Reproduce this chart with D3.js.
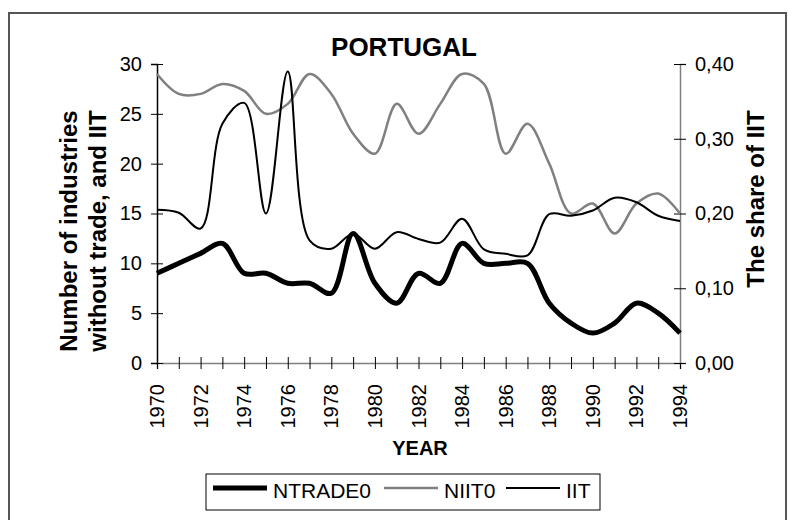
<!DOCTYPE html>
<html>
<head>
<meta charset="utf-8">
<script src="https://cdn.jsdelivr.net/npm/d3@7"></script>
<style>
  body { margin: 0; background: #fff; }
  svg { font-family: "Liberation Sans", Arial, sans-serif; }
</style>
</head>
<body>
<svg id="chart" width="788" height="520"></svg>
<script>
'use strict';

// data
var years = [1970, 1971, 1972, 1973, 1974, 1975, 1976, 1977, 1978, 1979, 1980, 1981, 1982,
             1983, 1984, 1985, 1986, 1987, 1988, 1989, 1990, 1991, 1992, 1993, 1994];
var ntrade0 = [9, 10, 11, 12, 9, 9, 8, 8, 7, 13, 8, 6, 9, 8, 12, 10, 10, 10, 6, 4, 3, 4, 6, 5, 3];
var niit0 = [29, 27, 27, 28, 27.3, 25, 26, 29, 27, 23, 21, 26, 23, 26, 29, 28, 21, 24, 20, 15, 16, 13, 16, 17, 15];
var iit = [0.205, 0.201, 0.18, 0.32, 0.348, 0.2, 0.39, 0.164, 0.153, 0.173, 0.153, 0.175, 0.166,
           0.161, 0.193, 0.152, 0.146, 0.144, 0.199, 0.197, 0.204, 0.221, 0.215, 0.197, 0.19];
var leftTicks = [0, 5, 10, 15, 20, 25, 30];
var rightTicks = [0, 0.1, 0.2, 0.3, 0.4];
var yearLabels = [1970, 1972, 1974, 1976, 1978, 1980, 1982, 1984, 1986, 1988, 1990, 1992, 1994];

var svg = d3.select("#chart");

// outer frame
svg.append("rect")
  .attr("x", 9).attr("y", 13)
  .attr("width", 777).attr("height", 520)
  .attr("fill", "#fff")
  .attr("stroke", "#555")
  .attr("stroke-width", 2);

var x = d3.scaleLinear().domain([1970, 1994]).range([157, 680]);
var yL = d3.scaleLinear().domain([0, 30]).range([363, 64]);
var yR = d3.scaleLinear().domain([0, 0.4]).range([363, 64]);

// axes
var gx = svg.append("g").attr("transform", "translate(0,363)")
  .call(d3.axisBottom(x).tickValues(years).tickSize(6).tickFormat(""));
gx.select(".domain").attr("stroke", "#808080").attr("stroke-width", 1.5);
gx.selectAll(".tick line").attr("y1", -6).attr("stroke", "#000");

svg.selectAll(".yl")
  .data(yearLabels)
  .enter().append("text")
  .attr("class", "yl")
  .attr("transform", function(d) { return "translate(" + x(d) + ",384) rotate(-90)"; })
  .attr("text-anchor", "end")
  .attr("dy", "0.35em")
  .attr("font-size", 20)
  .attr("fill", "#000")
  .text(function(d) { return d; });

var gl = svg.append("g").attr("transform", "translate(157,0)")
  .call(d3.axisLeft(yL).tickValues(leftTicks).tickSize(6).tickPadding(9));
gl.select(".domain").attr("stroke", "#000").attr("stroke-width", 1.5);
gl.selectAll(".tick line").attr("x1", 6).attr("stroke", "#000");
gl.selectAll(".tick text").attr("font-size", 20).attr("font-family", "Liberation Sans, Arial, sans-serif");

var gr = svg.append("g").attr("transform", "translate(680,0)")
  .call(d3.axisRight(yR).tickValues(rightTicks).tickSize(6).tickPadding(9)
    .tickFormat(function(d) { return d3.format(".2f")(d).replace(".", ","); }));
gr.select(".domain").attr("stroke", "#808080").attr("stroke-width", 1.5);
gr.selectAll(".tick line").attr("x1", -6).attr("stroke", "#000");
gr.selectAll(".tick text").attr("font-size", 20).attr("font-family", "Liberation Sans, Arial, sans-serif");

// lines
var lineL = d3.line()
  .x(function(d, i) { return x(years[i]); })
  .y(function(d) { return yL(d); })
  .curve(d3.curveCatmullRom.alpha(0.5));
var lineR = d3.line()
  .x(function(d, i) { return x(years[i]); })
  .y(function(d) { return yR(d); })
  .curve(d3.curveCatmullRom.alpha(0.5));

svg.append("path").datum(niit0)
  .attr("d", lineL).attr("fill", "none")
  .attr("stroke", "#808080").attr("stroke-width", 2.5);
svg.append("path").datum(iit)
  .attr("d", lineR).attr("fill", "none")
  .attr("stroke", "#000").attr("stroke-width", 2);
svg.append("path").datum(ntrade0)
  .attr("d", lineL).attr("fill", "none")
  .attr("stroke", "#000").attr("stroke-width", 5);

// titles
svg.append("text")
  .attr("x", 404).attr("y", 56)
  .attr("text-anchor", "middle")
  .attr("font-size", 26).attr("font-weight", "bold")
  .text("PORTUGAL");

svg.append("text")
  .attr("x", 420).attr("y", 455)
  .attr("text-anchor", "middle")
  .attr("font-size", 20).attr("font-weight", "bold")
  .text("YEAR");

svg.append("text")
  .attr("transform", "translate(77,231) rotate(-90)")
  .attr("text-anchor", "middle")
  .attr("font-size", 24).attr("font-weight", "bold")
  .text("Number of industries");
svg.append("text")
  .attr("transform", "translate(106,231) rotate(-90)")
  .attr("text-anchor", "middle")
  .attr("font-size", 24).attr("font-weight", "bold")
  .text("without trade, and IIT");

svg.append("text")
  .attr("transform", "translate(764,199) rotate(-90)")
  .attr("text-anchor", "middle")
  .attr("font-size", 24).attr("font-weight", "bold")
  .text("The share of IIT");

// legend
var legend = svg.append("g");
legend.append("rect")
  .attr("x", 206).attr("y", 474)
  .attr("width", 394).attr("height", 36)
  .attr("fill", "#fff").attr("stroke", "#000").attr("stroke-width", 1);

var legendItems = [
  { name: "NTRADE0", color: "#000", width: 5, x: 213 },
  { name: "NIIT0", color: "#808080", width: 2.5, x: 384 },
  { name: "IIT", color: "#000", width: 2, x: 506 }
];
legendItems.forEach(function(it) {
  legend.append("line")
    .attr("x1", it.x).attr("x2", it.x + 54)
    .attr("y1", 488).attr("y2", 488)
    .attr("stroke", it.color).attr("stroke-width", it.width);
  legend.append("text")
    .attr("x", it.x + 60).attr("y", 498)
    .attr("font-size", 21)
    .text(it.name);
});
</script>
</body>
</html>
